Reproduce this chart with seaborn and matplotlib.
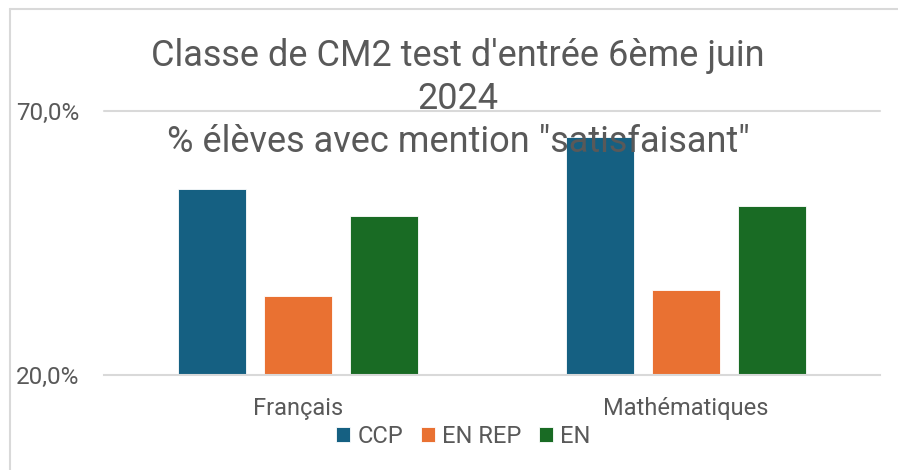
import matplotlib
matplotlib.use("Agg")
import matplotlib.pyplot as plt
from matplotlib.lines import Line2D
from matplotlib.ticker import FuncFormatter
import seaborn as sns
import pandas as pd

categories = ["Français", "Mathématiques"]
series = ["CCP", "EN REP", "EN"]
ccp = [55.2, 65.1]
en_rep = [35.0, 36.1]
en = [50.1, 52.1]
colors = ["#156082", "#E97132", "#196B24"]
title = "Classe de CM2 test d'entrée 6ème juin\n2024\n% élèves avec mention \"satisfaisant\""

df = pd.DataFrame({
    "cat": categories * 3,
    "serie": [s for s in series for _ in categories],
    "val": ccp + en_rep + en,
})

sns.set_theme(style="white")
plt.rcParams["font.family"] = ["Roboto", "DejaVu Sans"]
grey = "#595959"

fig = plt.figure(figsize=(8.98, 4.70), dpi=100)
W, H = 898, 470
ax = fig.add_axes([104 / W, 1 - 375 / H, (880 - 104) / W, (375 - 111) / H])

sns.barplot(data=df, x="cat", y="val", hue="serie", hue_order=series,
            palette=colors, saturation=1, width=0.665, gap=0.22, ax=ax,
            edgecolor="white", linewidth=0.6, legend=True)

ax.set_ylim(20, 70)
ax.set_xlim(-0.5, 1.5)
ax.set_yticks([20, 70])
ax.yaxis.set_major_formatter(FuncFormatter(lambda v, p: f"{v:.1f}".replace(".", ",") + "%"))
ax.set_xlabel("")
ax.set_ylabel("")
for s in ["left", "right", "top"]:
    ax.spines[s].set_visible(False)
ax.spines["bottom"].set_color("#d9d9d9")
ax.spines["bottom"].set_linewidth(1.5)
ax.axhline(70, color="#d9d9d9", linewidth=1.5, clip_on=False, zorder=0)
ax.tick_params(axis="y", length=0, pad=18, labelsize=17.5, labelcolor=grey)
ax.tick_params(axis="x", length=0, pad=16, labelsize=17, labelcolor=grey)
for t in ax.get_yticklabels():
    t.set_horizontalalignment("right")

leg = ax.legend(loc="center", bbox_to_anchor=(0.463, -0.232), ncol=3, frameon=False,
                fontsize=17, handlelength=0.6, handleheight=0.6, handletextpad=0.3,
                columnspacing=0.75, labelcolor=grey)

fig.text(458 / W, 1 - 99 / H, title, ha="center", va="center", multialignment="center",
         fontsize=26, color=grey, linespacing=1.26, zorder=10)

fig.add_artist(Line2D([10 / W, 1], [1 - 9 / H, 1 - 9 / H], color="#d9d9d9", linewidth=1.5,
                      transform=fig.transFigure))
fig.add_artist(Line2D([10 / W, 10 / W], [0, 1 - 9 / H], color="#d9d9d9", linewidth=1.5,
                      transform=fig.transFigure))

fig.savefig("out.png", dpi=100, facecolor="white")
